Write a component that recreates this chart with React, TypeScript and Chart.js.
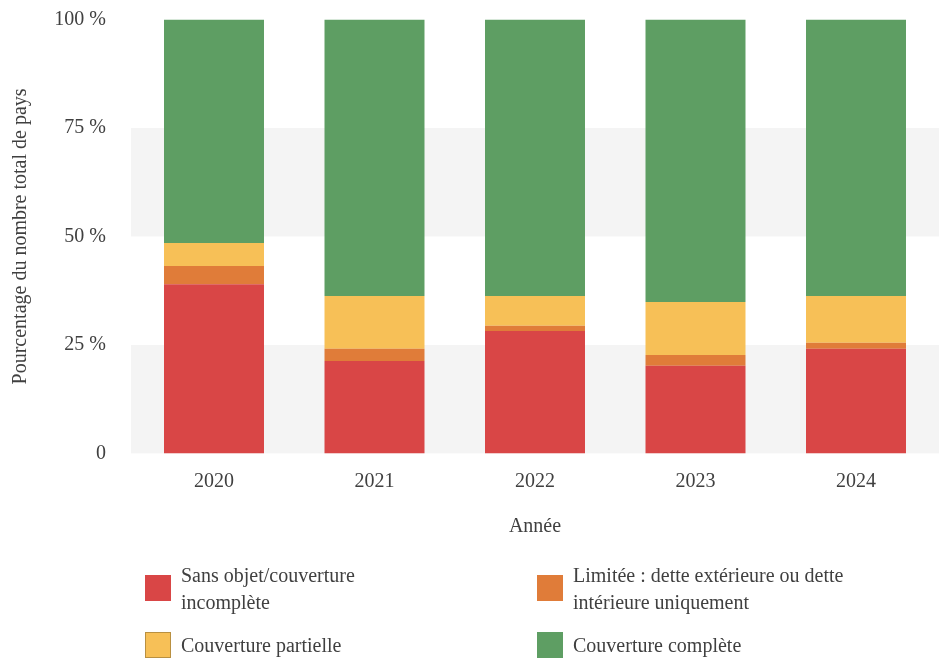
import React, { useEffect, useRef } from "react";
import { Chart, registerables } from "chart.js";

Chart.register(...registerables);

const years = ["2020", "2021", "2022", "2023", "2024"];
const sansObjet = [39.0, 21.3, 28.2, 20.2, 24.1];
const limitee = [4.2, 2.8, 1.2, 2.5, 1.4];
const partielle = [5.3, 12.2, 6.9, 12.2, 10.8];
const complete = [51.5, 63.7, 63.7, 65.1, 63.7];

const seriesLabels = [
  "Sans objet/couverture\nincomplète",
  "Limitée : dette extérieure ou dette\nintérieure uniquement",
  "Couverture partielle",
  "Couverture complète",
];
const seriesColors = ["#D94646", "#E07C39", "#F7C057", "#5E9E63"];
const yTicks = [0, 25, 50, 75, 100];
const yTitle = "Pourcentage du nombre total de pays";
const xTitle = "Année";

const FONT = '"Liberation Serif", "Times New Roman", serif';
const TEXT = "#404040";
const FS = 20;

const bandsPlugin = {
  id: "bands",
  beforeDatasetsDraw(chart: any) {
    const { ctx, chartArea, scales } = chart;
    const y = scales.y;
    ctx.save();
    ctx.fillStyle = "#F4F4F4";
    const bands = [
      [yTicks[0], yTicks[1]],
      [yTicks[2], yTicks[3]],
    ];
    const ext = 2.75;
    for (const [a, b] of bands) {
      const top = y.getPixelForValue(b);
      const bot = y.getPixelForValue(a);
      ctx.fillRect(chartArea.left - ext, top, chartArea.right - chartArea.left + 2 * ext, bot - top);
    }
    ctx.restore();
  },
};

const legendPlugin = {
  id: "customLegend",
  afterDraw(chart: any) {
    const { ctx } = chart;
    ctx.save();
    ctx.font = `${FS}px ${FONT}`;
    ctx.textBaseline = "alphabetic";
    ctx.textAlign = "left";
    const colX = [145, 537];
    const rowY = [575, 632];
    const box = 26;
    seriesLabels.forEach((label, i) => {
      const x = colX[i % 2];
      const y = rowY[Math.floor(i / 2)];
      ctx.fillStyle = seriesColors[i];
      ctx.fillRect(x, y, box, box);
      if (i === 2) {
        ctx.strokeStyle = "rgba(0,0,0,0.25)";
        ctx.lineWidth = 1;
        ctx.strokeRect(x + 0.5, y + 0.5, box - 1, box - 1);
      }
      ctx.fillStyle = TEXT;
      const lines = label.split("\n");
      const cy = y + box / 2;
      lines.forEach((ln, j) => {
        const base = cy + 7 + (j - (lines.length - 1) / 2) * 27;
        ctx.fillText(ln, x + 36, base);
      });
    });
    ctx.restore();
  },
};

export default function App() {
  const ref = useRef<HTMLCanvasElement | null>(null);
  useEffect(() => {
    if (!ref.current) return;
    const data = [sansObjet, limitee, partielle, complete];
    const chart = new Chart(ref.current, {
      type: "bar",
      data: {
        labels: years,
        datasets: data.map((d, i) => ({
          label: seriesLabels[i],
          data: d,
          backgroundColor: seriesColors[i],
          borderWidth: 0,
          barPercentage: 0.623,
          categoryPercentage: 1,
        })),
      },
      options: {
        responsive: false,
        animation: false,
        layout: { padding: { left: 9, top: 19.5, right: 3.75, bottom: 120.6 } },
        plugins: { legend: { display: false }, tooltip: { enabled: false } },
        scales: {
          x: {
            stacked: true,
            grid: { display: false, drawTicks: false },
            border: { display: false },
            ticks: { color: TEXT, font: { family: FONT, size: FS }, padding: 16 },
            title: {
              display: true,
              text: xTitle,
              color: TEXT,
              font: { family: FONT, size: FS },
              padding: 0,
            },
            afterFit(scale: any) {
              scale.height = 85;
              scale.paddingLeft = 0;
              scale.paddingRight = 0;
            },
          },
          y: {
            stacked: true,
            min: 0,
            max: 100,
            grid: { display: false, drawTicks: false },
            border: { display: false },
            afterBuildTicks(scale: any) {
              scale.ticks = yTicks.map((v) => ({ value: v }));
            },
            ticks: {
              color: TEXT,
              font: { family: FONT, size: FS },
              padding: 27.75,
              callback: (v: any) => (Number(v) === 0 ? "0" : `${v} %`),
            },
            title: {
              display: true,
              text: yTitle,
              color: TEXT,
              font: { family: FONT, size: FS },
              padding: 0,
            },
            afterFit(scale: any) {
              scale.width = 124.75;
              scale.paddingTop = 0;
              scale.paddingBottom = 0;
            },
          },
        },
      },
      plugins: [bandsPlugin, legendPlugin],
    });
    return () => chart.destroy();
  }, []);
  return (
    <div style={{ position: "absolute", left: 0, top: 0, width: 940, height: 659 }}>
      <canvas ref={ref} width={940} height={659} style={{ display: "block" }} />
    </div>
  );
}
